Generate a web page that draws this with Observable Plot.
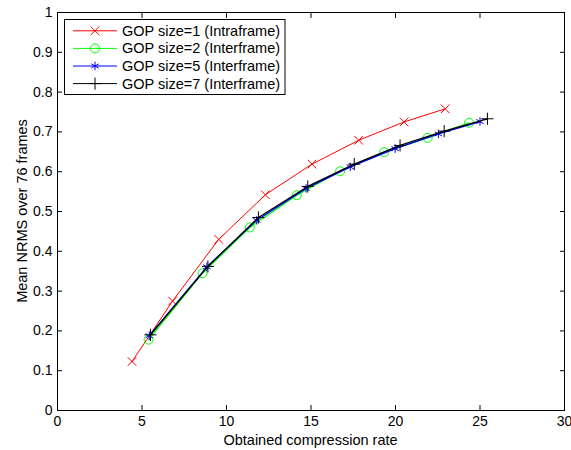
<!DOCTYPE html>
<html><head><meta charset="utf-8">
<script src="https://cdn.jsdelivr.net/npm/d3@7"></script>
<script src="https://cdn.jsdelivr.net/npm/@observablehq/plot@0.6"></script>
<style>body{margin:0;background:#fff}</style>
</head><body><div id="chart"></div>
<script>
const seriesNames = ["GOP size=1 (Intraframe)", "GOP size=2 (Interframe)", "GOP size=5 (Interframe)", "GOP size=7 (Interframe)"];
const seriesColors = ["#ff0000", "#00ff00", "#0000ff", "#000000"];
const seriesSymbols = ["times", "circle", "asterisk", "plus"];

const xGop1 = [4.41, 6.81, 9.54, 12.30, 15.06, 17.82, 20.51, 22.94];
const yGop1 = [0.123, 0.275, 0.430, 0.542, 0.619, 0.679, 0.725, 0.758];
const xGop2 = [5.39, 8.58, 11.38, 14.16, 16.72, 19.33, 21.90, 24.35];
const yGop2 = [0.178, 0.345, 0.460, 0.541, 0.601, 0.649, 0.685, 0.723];
const xGop5 = [5.43, 8.84, 11.79, 14.71, 17.32, 19.98, 22.54, 25.00];
const yGop5 = [0.188, 0.361, 0.478, 0.558, 0.612, 0.658, 0.695, 0.726];
const xGop7 = [5.50, 8.90, 11.89, 14.81, 17.56, 20.27, 22.88, 25.44];
const yGop7 = [0.190, 0.362, 0.485, 0.563, 0.619, 0.666, 0.702, 0.733];

const xTicks = [0, 5, 10, 15, 20, 25, 30];
const yTicks = [0, 0.1, 0.2, 0.3, 0.4, 0.5, 0.6, 0.7, 0.8, 0.9, 1];
const xLabel = "Obtained compression rate";
const yLabel = "Mean NRMS over 76 frames";

const xs = [xGop1, xGop2, xGop5, xGop7];
const ys = [yGop1, yGop2, yGop5, yGop7];
const seriesData = xs.map((xa, i) => xa.map((x, j) => ({series: seriesNames[i], x, y: ys[i][j]})));

const font = "'Liberation Sans', Arial, Helvetica, sans-serif";
const W = 571, H = 450;
const mL = 57, mR = 7, mT = 12, mB = 40;
const tickLen = 5;
const noText = () => "";

const marks = [
  Plot.axisX({ticks: xTicks, tickSize: 0, tickPadding: 6, tickFormat: d => String(d), fontSize: 14, label: null}),
  Plot.axisY({ticks: yTicks, tickSize: 0, tickPadding: 5, tickFormat: d => String(+d.toFixed(1)), fontSize: 14, label: null}),
  // inward ticks on all four sides
  Plot.axisX({ticks: xTicks, anchor: "bottom", tickSize: -tickLen, tickFormat: noText, label: null, stroke: "black", strokeWidth: 1}),
  Plot.axisX({ticks: xTicks, anchor: "top", tickSize: -tickLen, tickFormat: noText, label: null, stroke: "black", strokeWidth: 1}),
  Plot.axisY({ticks: yTicks, anchor: "left", tickSize: -tickLen, tickFormat: noText, label: null, stroke: "black", strokeWidth: 1}),
  Plot.axisY({ticks: yTicks, anchor: "right", tickSize: -tickLen, tickFormat: noText, label: null, stroke: "black", strokeWidth: 1})
];
seriesData.forEach((data, i) => {
  marks.push(Plot.line(data, {x: "x", y: "y", stroke: seriesColors[i], strokeWidth: i === 0 ? 1 : 1.3}));
  marks.push(Plot.dot(data, {x: "x", y: "y", symbol: () => seriesSymbols[i], stroke: seriesColors[i], r: seriesSymbols[i] === "circle" ? 4.5 : 4, strokeWidth: 1, fill: "none"}));
});
marks.push(Plot.frame({stroke: "black"}));

const chart = Plot.plot({
  width: W, height: H,
  marginLeft: mL, marginRight: mR, marginTop: mT, marginBottom: mB,
  x: {domain: [0, 30]},
  y: {domain: [0, 1]},
  symbol: {type: "identity"},
  style: {fontFamily: font, fontSize: "14px", background: "white", color: "black", overflow: "visible"},
  marks
});
document.getElementById("chart").appendChild(chart);

const svg = d3.select(chart);
const sx = chart.scale("x"), sy = chart.scale("y");
const X = v => sx.apply(v), Y = v => sy.apply(v);
const x0 = X(0), x1 = X(30), y0 = Y(0), y1 = Y(1);

// axis titles
svg.append("text").attr("x", (x0 + x1) / 2).attr("y", 440).attr("dy", "0.35em")
  .attr("text-anchor", "middle").attr("font-family", font).attr("font-size", 14.5).attr("fill", "black").text(xLabel);
svg.append("text").attr("transform", `translate(22,${(y0 + y1) / 2}) rotate(-90)`).attr("dy", "0.35em")
  .attr("text-anchor", "middle").attr("font-family", font).attr("font-size", 14.5).attr("fill", "black").text(yLabel);

// legend
const lg = svg.append("g").attr("font-family", font).attr("font-size", 14.5).attr("text-anchor", "start");
const bx = 64.5, by = 19.5, bw = 220.5, rowH = 17.6, row0 = 30.8;
lg.append("rect").attr("x", bx).attr("y", by).attr("width", bw).attr("height", 75)
  .attr("fill", "white").attr("stroke", "black");
seriesNames.forEach((name, i) => {
  const cy = row0 + i * rowH;
  lg.append("line").attr("x1", 73).attr("x2", 117).attr("y1", cy).attr("y2", cy)
    .attr("stroke", seriesColors[i]).attr("stroke-width", 1);
  const sym = {times: d3.symbolTimes, circle: d3.symbolCircle, asterisk: d3.symbolAsterisk, plus: d3.symbolPlus}[seriesSymbols[i]];
  const r = seriesSymbols[i] === "circle" ? 4.5 : 4;
  lg.append("path").attr("transform", `translate(95,${cy})`)
    .attr("d", d3.symbol(sym, Math.PI * r * r)())
    .attr("fill", "none").attr("stroke", seriesColors[i]);
  lg.append("text").attr("x", 122).attr("y", cy).attr("dy", "0.35em").attr("fill", "black").text(name);
});
</script>
</body></html>
